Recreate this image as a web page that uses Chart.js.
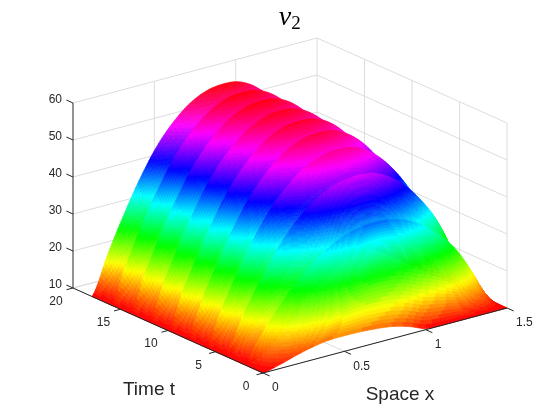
<!DOCTYPE html>
<html>
<head>
<meta charset="utf-8">
<title>v2</title>
<script src="https://cdn.jsdelivr.net/npm/chart.js@4"></script>
<style>
html, body { margin: 0; padding: 0; background: #fff; }
canvas { display: block; }
</style>
</head>
<body>
<canvas id="surfaceChart" width="560" height="420"></canvas>
<script>
// grid of the surface
const xValues = [0, 0.1, 0.2, 0.3, 0.4, 0.5, 0.6, 0.7, 0.8, 0.9, 1, 1.1, 1.2, 1.3, 1.4, 1.5];
// a time that appears twice is a drop: value just before and just after it
const tValues = [0, 1, 2, 2, 3, 4, 4, 5, 6, 6, 7, 8, 8, 9, 10, 10, 11, 12, 12, 13, 14, 14, 15, 16, 16, 17, 18];
const vRows = [
    [10, 11, 12.3, 13.4, 14.1, 14.2, 14.1, 13.8, 13.2, 12, 10.3, 10, 10, 10, 10, 10],
    [10, 13.8, 17.8, 21.2, 24, 26, 27.4, 28.2, 28.4, 27.8, 26, 24, 21.5, 18.5, 14.5, 10],
    [10, 16.4, 22.2, 27.4, 31.8, 34.9, 37.3, 38.6, 39, 38.7, 37.3, 34.7, 30.9, 26, 18.7, 10],
    [10, 11.1, 14.5, 19, 23.7, 27.5, 30.3, 31.9, 32.3, 32, 30.8, 28.4, 24.6, 20, 13.8, 10],
    [10, 14.9, 20.5, 26.3, 31.6, 35.7, 38.6, 40.3, 40.8, 40.5, 38.9, 35.9, 31.5, 25.8, 17.8, 10],
    [10, 18.6, 26.5, 33.6, 39.5, 43.8, 46.9, 48.7, 49.3, 48.9, 46.9, 43.4, 38.3, 31.6, 21.8, 10],
    [10, 12.2, 17.1, 23.4, 29.7, 34.9, 38.4, 40.5, 41.1, 40.8, 39, 35.7, 30.6, 24.4, 15.8, 10],
    [10, 16, 22.8, 29.9, 36.4, 41.4, 44.9, 46.9, 47.6, 47.2, 45.2, 41.6, 36.2, 29.3, 19.5, 10],
    [10, 19.7, 28.5, 36.4, 43, 47.8, 51.4, 53.3, 54, 53.6, 51.4, 47.4, 41.7, 34.2, 23.2, 10],
    [10, 12.8, 18.4, 25.4, 32.4, 38.1, 42.2, 44.5, 45.2, 44.9, 42.8, 39.1, 33.4, 26.4, 16.8, 10],
    [10, 16.5, 23.9, 31.6, 38.6, 44, 47.9, 50.1, 50.8, 50.4, 48.2, 44.3, 38.4, 31, 20.4, 10],
    [10, 20.2, 29.4, 37.8, 44.7, 49.8, 53.5, 55.6, 56.3, 55.8, 53.5, 49.4, 43.3, 35.5, 23.9, 10],
    [10, 12.7, 18.4, 25.8, 33.2, 39.3, 43.5, 46, 46.7, 46.3, 44.2, 40.4, 34.3, 27, 16.9, 10],
    [10, 16.6, 24.1, 32.1, 39.3, 45, 49, 51.3, 52, 51.5, 49.3, 45.3, 39.2, 31.5, 20.6, 10],
    [10, 20.4, 29.8, 38.3, 45.4, 50.6, 54.4, 56.5, 57.2, 56.7, 54.4, 50.1, 44, 36, 24.2, 10],
    [10, 12.9, 18.8, 26.3, 33.9, 40.1, 44.4, 46.9, 47.6, 47.2, 45.1, 41.1, 35, 27.5, 17.2, 10],
    [10, 16.7, 24.4, 32.5, 39.8, 45.5, 49.6, 51.9, 52.6, 52.2, 49.9, 45.8, 39.7, 31.9, 20.8, 10],
    [10, 20.5, 30, 38.6, 45.7, 50.9, 54.7, 56.9, 57.6, 57.1, 54.7, 50.5, 44.3, 36.2, 24.3, 10],
    [10, 13, 19, 26.6, 34.2, 40.4, 44.7, 47.3, 48, 47.6, 45.4, 41.5, 35.3, 27.7, 17.3, 10],
    [10, 16.8, 24.6, 32.7, 40.1, 45.9, 49.9, 52.3, 53, 52.6, 50.3, 46.2, 40, 32, 20.9, 10],
    [10, 20.6, 30.2, 38.8, 46, 51.3, 55.1, 57.3, 58, 57.5, 55.1, 50.8, 44.6, 36.4, 24.4, 10],
    [10, 13.1, 19.2, 26.8, 34.5, 40.8, 45.1, 47.7, 48.4, 48, 45.8, 41.8, 35.6, 27.9, 17.4, 10],
    [10, 16.9, 24.7, 32.8, 40.3, 46, 50.1, 52.5, 53.2, 52.8, 50.5, 46.3, 40.1, 32.2, 20.9, 10],
    [10, 20.6, 30.2, 38.8, 46, 51.3, 55.1, 57.3, 58, 57.5, 55.1, 50.8, 44.6, 36.4, 24.4, 10],
    [10, 13.1, 19.2, 26.8, 34.5, 40.8, 45.1, 47.7, 48.4, 48, 45.8, 41.8, 35.6, 27.9, 17.4, 10],
    [10, 16.9, 24.7, 32.8, 40.3, 46, 50.1, 52.5, 53.2, 52.8, 50.5, 46.3, 40.1, 32.2, 20.9, 10],
    [10, 20.6, 30.2, 38.8, 46, 51.3, 55.1, 57.3, 58, 57.5, 55.1, 50.8, 44.6, 36.4, 24.4, 10]
];

const xTicks = [0, 0.5, 1, 1.5];
const tTicks = [0, 5, 10, 15, 20];
const vTicks = [10, 20, 30, 40, 50, 60];

const xMax = 1.5, tMax = 20, vMin = 10, vMax = 60;
const colorTop = 58;

// fixed view of the box: parallel projection to page units
function project(x, t, v) {
    return {
        x: 263 + 162.7 * x - 9.5 * t,
        y: 373 - 43.33 * x - 4.25 * t - 3.7 * (v - vMin)
    };
}

// line list with gaps between segments
function segments(list) {
    const pts = [];
    list.forEach(function (s) {
        pts.push(project(s[0], s[1], s[2]), project(s[3], s[4], s[5]), { x: NaN, y: NaN });
    });
    return pts;
}

const gridSegs = [];
vTicks.forEach(function (v) {
    gridSegs.push([0, tMax, v, xMax, tMax, v]);
    gridSegs.push([xMax, tMax, v, xMax, 0, v]);
});
xTicks.forEach(function (x) {
    if (x > 0) gridSegs.push([x, tMax, vMin, x, tMax, vMax]);
    gridSegs.push([x, 0, vMin, x, tMax, vMin]);
});
tTicks.forEach(function (t) {
    if (t < tMax) gridSegs.push([xMax, t, vMin, xMax, t, vMax]);
    gridSegs.push([0, t, vMin, xMax, t, vMin]);
});

const axisSegs = [
    [0, tMax, vMin, 0, tMax, vMax],
    [0, 0, vMin, 0, tMax, vMin],
    [0, 0, vMin, xMax, 0, vMin]
];
vTicks.forEach(function (v) { axisSegs.push([0, tMax, v, 0, tMax + 0.7, v]); });
xTicks.forEach(function (x) { axisSegs.push([x, 0, vMin, x, -0.7, vMin]); });
tTicks.forEach(function (t) { axisSegs.push([0, t, vMin, -0.04, t, vMin]); });

const surfacePoints = [];
vRows.forEach(function (row, r) {
    row.forEach(function (v, c) { surfacePoints.push(project(xValues[c], tValues[r], v)); });
});

// hsv colormap in 64 steps, red at both ends
function colorFor(v) {
    const step = Math.min(63, Math.max(0, Math.floor((v - vMin) / (colorTop - vMin) * 64)));
    return 'hsl(' + (step / 64 * 360).toFixed(1) + ',100%,50%)';
}

// smooth value along x inside one row, only for drawing
function smoothAt(row, c, a) {
    const p0 = row[Math.max(c - 1, 0)], p1 = row[c], p2 = row[c + 1], p3 = row[Math.min(c + 2, row.length - 1)];
    const v = 0.5 * (2 * p1 + (p2 - p0) * a + (2 * p0 - 5 * p1 + 4 * p2 - p3) * a * a + (3 * p1 - p0 - 3 * p2 + p3) * a * a * a);
    return Math.max(v, vMin);
}

const surfacePlugin = {
    id: 'surface',
    afterDatasetDraw: function (chart, args) {
        if (args.index !== 1) return;
        const sx = chart.scales.x, sy = chart.scales.y, ctx = chart.ctx;
        const nx = 10, nt = 16;
        ctx.save();
        ctx.lineWidth = 0.6;
        ctx.lineJoin = 'round';
        // far strips first
        for (let r = vRows.length - 2; r >= 0; r--) {
            if (tValues[r] === tValues[r + 1]) continue;
            for (let k = nt - 1; k >= 0; k--) {
                for (let c = xValues.length - 2; c >= 0; c--) {
                    for (let m = nx - 1; m >= 0; m--) {
                        const corners = [[m, k], [m + 1, k], [m + 1, k + 1], [m, k + 1]].map(function (q) {
                            const a = q[0] / nx, b = q[1] / nt;
                            const x = xValues[c] + (xValues[c + 1] - xValues[c]) * a;
                            const t = tValues[r] + (tValues[r + 1] - tValues[r]) * b;
                            const v0 = smoothAt(vRows[r], c, a), v1 = smoothAt(vRows[r + 1], c, a);
                            const v = v0 + (v1 - v0) * b;
                            const p = project(x, t, v);
                            return { x: sx.getPixelForValue(p.x), y: sy.getPixelForValue(p.y), v: v };
                        });
                        const col = colorFor((corners[0].v + corners[1].v + corners[2].v + corners[3].v) / 4);
                        ctx.fillStyle = col;
                        ctx.strokeStyle = col;
                        ctx.beginPath();
                        corners.forEach(function (p, i) {
                            if (i === 0) ctx.moveTo(p.x, p.y); else ctx.lineTo(p.x, p.y);
                        });
                        ctx.closePath();
                        ctx.fill();
                        ctx.stroke();
                    }
                }
            }
        }
        ctx.restore();
    },
    afterDraw: function (chart) {
        const sx = chart.scales.x, sy = chart.scales.y, ctx = chart.ctx;
        function text(str, px, py, align, font) {
            ctx.font = font;
            ctx.textAlign = align;
            ctx.fillText(str, px, py);
        }
        function at(x, t, v) {
            const p = project(x, t, v);
            return { x: sx.getPixelForValue(p.x), y: sy.getPixelForValue(p.y) };
        }
        const tickFont = '12px "Liberation Sans"';
        const labelFont = '19px "Liberation Sans"';
        ctx.save();
        ctx.fillStyle = '#262626';
        ctx.textBaseline = 'middle';
        vTicks.forEach(function (v) {
            const p = at(0, tMax, v);
            text(String(v), p.x - 11, p.y - 3, 'right', tickFont);
        });
        tTicks.forEach(function (t) {
            const p = at(0, t, vMin);
            text(String(t), p.x - 17, p.y + 13.5, 'center', tickFont);
        });
        xTicks.forEach(function (x) {
            const p = at(x, 0, vMin);
            text(String(x), p.x + 9, p.y + 15, 'left', tickFont);
        });
        text('Time t', 149, 390, 'center', labelFont);
        text('Space x', 400, 395, 'center', labelFont);
        ctx.textBaseline = 'alphabetic';
        ctx.fillStyle = '#000';
        text('v', 285, 25, 'center', 'italic 28px "Liberation Serif"');
        text('2', 296, 29, 'center', '19px "Liberation Serif"');
        ctx.restore();
    }
};

new Chart(document.getElementById('surfaceChart').getContext('2d'), {
    type: 'scatter',
    data: {
        datasets: [
            { label: 'grid', data: segments(gridSegs), showLine: true, pointRadius: 0, borderColor: '#dcdcdc', borderWidth: 1, order: 3 },
            { label: 'v2', data: surfacePoints, showLine: false, pointRadius: 0, order: 2 },
            { label: 'axes', data: segments(axisSegs), showLine: true, pointRadius: 0, borderColor: '#262626', borderWidth: 1, order: 1 }
        ]
    },
    options: {
        responsive: false,
        animation: false,
        layout: { padding: 0 },
        plugins: { legend: { display: false }, tooltip: { enabled: false } },
        scales: {
            x: { type: 'linear', min: 0, max: 560, display: false },
            y: { type: 'linear', min: 0, max: 420, reverse: true, display: false }
        }
    },
    plugins: [surfacePlugin]
});
</script>
</body>
</html>
